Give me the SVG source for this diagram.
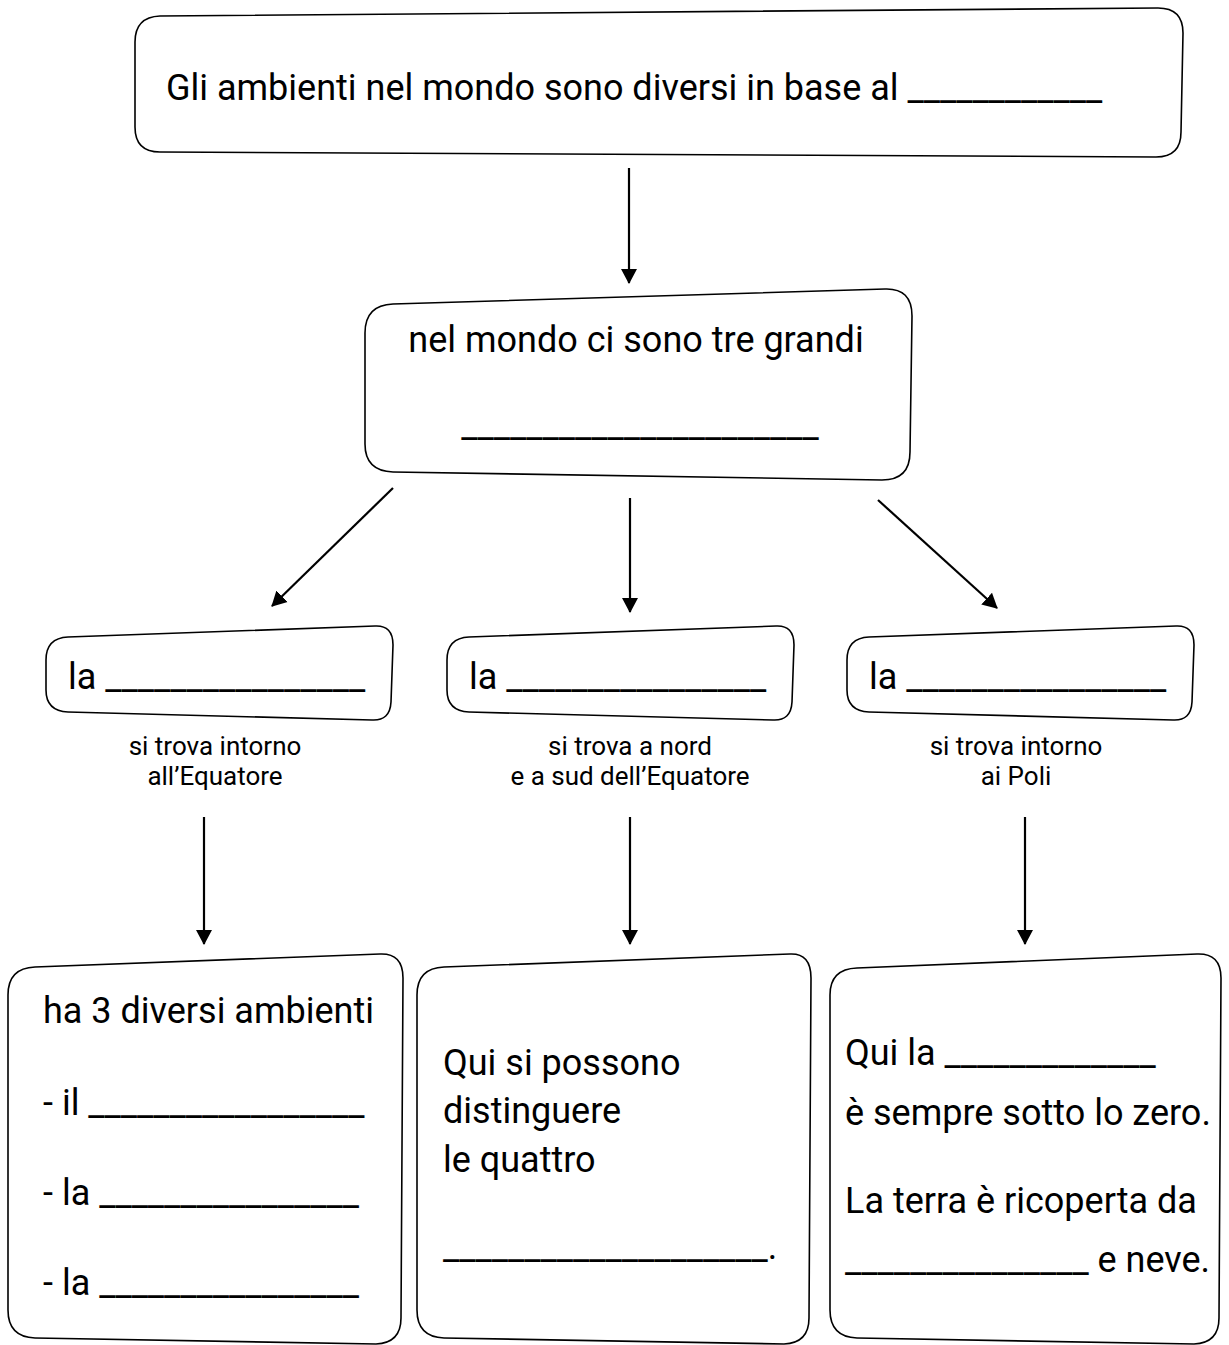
<svg xmlns="http://www.w3.org/2000/svg" width="1229" height="1345" viewBox="0 0 1229 1345">
<style>
.box{fill:#fff;stroke:#000;stroke-width:1.6}
.t{font-family:Roboto,"Liberation Sans",sans-serif;fill:#000;font-size:36px}
.sm{font-size:26px}
.c{text-anchor:middle}
.con{stroke:#000;stroke-width:2.2;fill:none}
</style>
<defs>
<marker id="ah" markerUnits="userSpaceOnUse" markerWidth="18" markerHeight="18" viewBox="0 0 18 18" refX="14" refY="9" orient="auto">
<path d="M0 1 L15 9 L0 17 Z" fill="#000"/>
</marker>
</defs>
<rect width="1229" height="1345" fill="#fff"/>
<g id="n-top">
<path class="box" d="M160 16 L1158 8 Q1183 8 1183 33 L1181 132 Q1181 157 1156 157 L160 152 Q135 152 135 127 L135 42 Q135 17 160 16 Z"/>
<text class="t" x="166" y="100">Gli ambienti nel mondo sono diversi in base al ____________</text>
</g>
<g id="n-grandi">
<path class="box" d="M393 304 L885 289 Q912 288 912 316 L910 452 Q910 480 882 480 L393 472 Q365 471 365 444 L365 333 Q365 305 393 304 Z"/>
<text class="t c" x="636" y="352">nel mondo ci sono tre grandi</text>
<text class="t c" x="640" y="437">______________________</text>
</g>
<g id="n-la1">
<path class="box" d="M68 637 L375 626 Q393 625 393 645 L391 702 Q390 721 372 720 L68 712 Q46 711 46 690 L46 660 Q46 638 68 637 Z"/>
<text class="t" x="68" y="689">la ________________</text>
<text class="t sm c" x="215" y="755">si trova intorno</text>
<text class="t sm c" x="215" y="785">all’Equatore</text>
</g>
<g id="n-la2">
<path class="box" d="M469 637 L776 626 Q794 625 794 645 L792 702 Q791 721 773 720 L469 712 Q447 711 447 690 L447 660 Q447 638 469 637 Z"/>
<text class="t" x="469" y="689">la ________________</text>
<text class="t sm c" x="630" y="755">si trova a nord</text>
<text class="t sm c" x="630" y="785">e a sud dell’Equatore</text>
</g>
<g id="n-la3">
<path class="box" d="M869 637 L1176 626 Q1194 625 1194 645 L1192 702 Q1191 721 1173 720 L869 712 Q847 711 847 690 L847 660 Q847 638 869 637 Z"/>
<text class="t" x="869" y="689">la ________________</text>
<text class="t sm c" x="1016" y="755">si trova intorno</text>
<text class="t sm c" x="1016" y="785">ai Poli</text>
</g>
<g id="n-ambienti">
<path class="box" d="M35 967 L380 954 Q403 953 403 978 L401 1318 Q401 1343 376 1344 L35 1338 Q8 1337 8 1310 L8 995 Q8 968 35 967 Z"/>
<text class="t" x="43" y="1023">ha 3 diversi ambienti</text>
<text class="t" x="43" y="1115">- il _________________</text>
<text class="t" x="43" y="1205">- la ________________</text>
<text class="t" x="43" y="1295">- la ________________</text>
</g>
<g id="n-stagioni">
<path class="box" d="M444 967 L790 954 Q811 953 811 978 L809 1318 Q809 1343 784 1344 L444 1338 Q417 1337 417 1310 L417 995 Q417 968 444 967 Z"/>
<text class="t" x="443" y="1075">Qui si possono</text>
<text class="t" x="443" y="1123">distinguere</text>
<text class="t" x="443" y="1172">le quattro</text>
<text class="t" x="443" y="1259">____________________.</text>
</g>
<g id="n-poli">
<path class="box" d="M857 968 L1197 954 Q1221 953 1221 978 L1219 1318 Q1219 1343 1194 1344 L857 1338 Q830 1337 830 1310 L830 995 Q830 969 857 968 Z"/>
<text class="t" x="845" y="1065">Qui la _____________</text>
<text class="t" x="845" y="1125">è sempre sotto lo zero.</text>
<text class="t" x="845" y="1213">La terra è ricoperta da</text>
<text class="t" x="845" y="1272">_______________ e neve.</text>
</g>
<g id="connectors">
<line class="con" x1="629" y1="168" x2="629" y2="283" marker-end="url(#ah)"/>
<line class="con" x1="393" y1="488" x2="272" y2="606" marker-end="url(#ah)"/>
<line class="con" x1="630" y1="498" x2="630" y2="612" marker-end="url(#ah)"/>
<line class="con" x1="878" y1="500" x2="997" y2="608" marker-end="url(#ah)"/>
<line class="con" x1="204" y1="817" x2="204" y2="944" marker-end="url(#ah)"/>
<line class="con" x1="630" y1="817" x2="630" y2="944" marker-end="url(#ah)"/>
<line class="con" x1="1025" y1="817" x2="1025" y2="944" marker-end="url(#ah)"/>
</g>
</svg>
